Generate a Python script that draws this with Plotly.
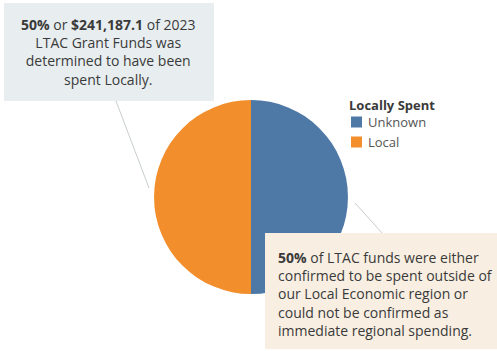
import plotly.graph_objects as go

W, H = 497, 351
categories = ["Unknown", "Local"]
values = [241187.1, 241187.1]
colors = ["#4e79a7", "#f28e2b"]
legend_title = "Locally Spent"

def px(x):
    return x / W

def py(y):
    return 1 - y / H

fig = go.Figure(go.Pie(
    labels=categories, values=values, sort=False, direction="clockwise", rotation=0,
    marker=dict(colors=colors, line=dict(width=0)), textinfo="none", hoverinfo="label+value+percent",
    domain=dict(x=[px(154), px(348)], y=[py(294), py(100)]), showlegend=False,
))

FONT = "Open Sans"
TXT = "#3a3a3a"
shapes = [
    dict(type="rect", xref="paper", yref="paper", x0=px(4), x1=px(214), y0=py(101), y1=py(3),
         fillcolor="#e8eef0", line=dict(width=0), layer="below"),
    dict(type="rect", xref="paper", yref="paper", x0=px(265), x1=px(497), y0=py(349), y1=py(233),
         fillcolor="#f8efe2", line=dict(width=0), layer="above"),
    dict(type="line", xref="paper", yref="paper", x0=px(116), y0=py(101), x1=px(149), y1=py(188),
         line=dict(color="#c8cdd0", width=1)),
    dict(type="line", xref="paper", yref="paper", x0=px(355), y0=py(203), x1=px(382), y1=py(233),
         line=dict(color="#c8cdd0", width=1)),
]
annotations = [
    dict(xref="paper", yref="paper", x=px(108), y=py(52), xanchor="center", yanchor="middle",
         text="<b>50%</b> or <b>$241,187.1</b> of 2023<br>LTAC Grant Funds was<br>determined to have been<br>spent Locally.",
         showarrow=False, align="center", font=dict(family=FONT, size=14, color=TXT)),
    dict(xref="paper", yref="paper", x=px(276), y=py(294), xanchor="left", yanchor="middle",
         text="<b>50%</b> of LTAC funds were either<br>confirmed to be spent outside of<br>our Local Economic region or<br>could not be confirmed as<br>immediate regional spending.",
         showarrow=False, align="left", font=dict(family=FONT, size=14, color=TXT)),
    dict(xref="paper", yref="paper", x=px(347), y=py(105), xanchor="left", yanchor="middle",
         text="<b>" + legend_title + "</b>", showarrow=False, font=dict(family=FONT, size=13, color=TXT)),
]
for i, (cat, col) in enumerate(zip(categories, colors)):
    yc = 122 + 20 * i
    shapes.append(dict(type="rect", xref="paper", yref="paper", x0=px(351), x1=px(362),
                       y0=py(yc + 5.5), y1=py(yc - 5.5), fillcolor=col, line=dict(width=0)))
    annotations.append(dict(xref="paper", yref="paper", x=px(366), y=py(yc), xanchor="left", yanchor="middle",
                            text=cat, showarrow=False, font=dict(family=FONT, size=13, color="#555555")))

fig.update_layout(width=W, height=H, margin=dict(l=0, r=0, t=0, b=0),
                  paper_bgcolor="white", plot_bgcolor="white",
                  shapes=shapes, annotations=annotations)
fig.write_html("out.html")
